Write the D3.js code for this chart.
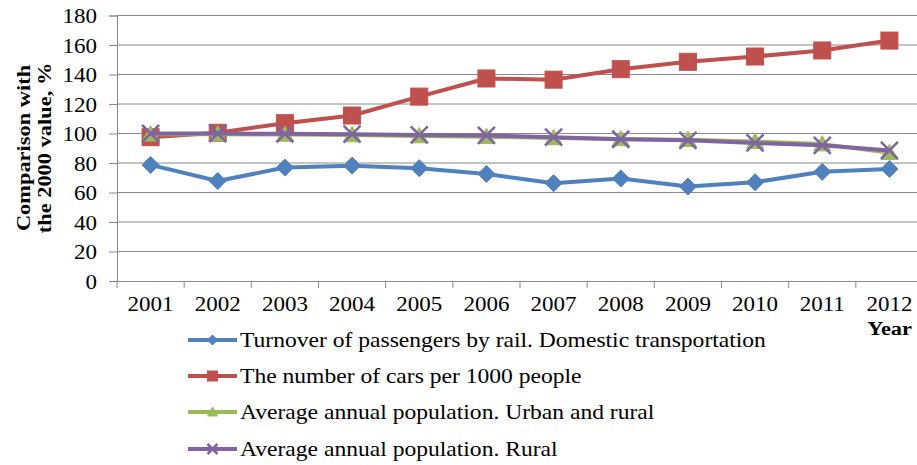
<!DOCTYPE html>
<html>
<head>
<meta charset="utf-8">
<script src="https://cdn.jsdelivr.net/npm/d3@7"></script>
<style>
  html, body { margin: 0; padding: 0; background: #fff; }
  svg { display: block; }
  text { font-family: "Liberation Serif", "Times New Roman", serif; fill: #000; }
</style>
</head>
<body>
<svg id="chart" width="917" height="465"></svg>
<script>
const years = ["2001","2002","2003","2004","2005","2006","2007","2008","2009","2010","2011","2012"];
const railTurnover = [78.7, 67.8, 76.9, 78.2, 76.5, 72.6, 66.3, 69.5, 64.0, 67.0, 74.0, 76.0];
const carsPer1000 = [97.5, 100.5, 107.0, 112.2, 125.0, 137.3, 136.5, 143.6, 148.6, 152.2, 156.3, 163.0];
const popUrbanRural = [99.5, 99.5, 99.3, 99.0, 98.3, 97.8, 97.0, 96.3, 95.8, 94.5, 92.8, 87.0];
const popRural = [100.0, 100.0, 99.8, 99.5, 99.0, 98.7, 97.5, 96.1, 95.4, 93.6, 92.0, 88.5];
const yTicks = [0, 20, 40, 60, 80, 100, 120, 140, 160, 180];
const seriesNames = [
  "Turnover of passengers by rail. Domestic transportation",
  "The number of cars per 1000 people",
  "Average annual population. Urban and rural",
  "Average annual population. Rural"
];
const yTitle = ["Comparison with", "the 2000 value, %"];
const xTitle = "Year";

const series = [
  { name: seriesNames[0], values: railTurnover, color: "#4F81BD", marker: "diamond", width: 4 },
  { name: seriesNames[1], values: carsPer1000, color: "#C0504D", marker: "square", width: 4 },
  { name: seriesNames[2], values: popUrbanRural, color: "#9BBB59", marker: "triangle", width: 4 },
  { name: seriesNames[3], values: popRural, color: "#8064A2", marker: "cross", width: 4 }
];

const SX = 1.15; // horizontal stretch of the original glyphs
const svg = d3.select("#chart");
const plotLeft = 117, plotRight = 923, plotTop = 15.5, plotBottom = 281;

const x = d3.scaleBand().domain(years).range([plotLeft, plotRight]);
const y = d3.scaleLinear().domain([0, 180]).range([plotBottom, plotTop]);

// gridlines
svg.append("g").selectAll("line").data(yTicks.filter(d => d > 0)).join("line")
  .attr("x1", plotLeft).attr("x2", plotRight)
  .attr("y1", d => y(d)).attr("y2", d => y(d))
  .attr("stroke", "#8a8a8a").attr("stroke-width", 1);

// y axis
const yAxis = svg.append("g").attr("transform", `translate(${plotLeft},0)`)
  .call(d3.axisLeft(y).tickValues(yTicks).tickSize(8).tickPadding(12));
yAxis.select(".domain").attr("stroke", "#8a8a8a");
yAxis.selectAll(".tick line").attr("stroke", "#8a8a8a");
yAxis.selectAll(".tick text").each(function() {
  const t = d3.select(this);
  const xx = +t.attr("x");
  t.attr("x", null).attr("dy", null)
   .attr("transform", `translate(${xx},7) scale(${SX},1)`)
   .style("font-size", "20px").style("font-family", "Liberation Serif");
});

// x axis
const xAxis = svg.append("g").attr("transform", `translate(0,${plotBottom})`)
  .call(d3.axisBottom(x).tickSize(0).tickPadding(0));
xAxis.select(".domain").attr("stroke", "#8a8a8a");
xAxis.selectAll(".tick text").each(function() {
  const t = d3.select(this);
  t.attr("y", null).attr("dy", null)
   .attr("transform", `translate(0,30) scale(${SX},1)`)
   .style("font-size", "20px").style("font-family", "Liberation Serif");
});
// category boundary ticks
const bounds = years.map(d => x(d)).concat([plotRight]);
svg.append("g").selectAll("line").data(bounds).join("line")
  .attr("x1", d => d).attr("x2", d => d)
  .attr("y1", plotBottom).attr("y2", plotBottom + 7)
  .attr("stroke", "#8a8a8a");

// y title
const yt = svg.append("g");
yTitle.forEach((s, i) => {
  yt.append("text")
    .attr("transform", `translate(${30 + i * 21},148) rotate(-90) scale(${SX},1)`)
    .attr("text-anchor", "middle")
    .style("font-size", "19.5px").style("font-weight", "bold")
    .text(s);
});
// x title
svg.append("text")
  .attr("transform", `translate(912,335) scale(${SX},1)`)
  .attr("text-anchor", "end")
  .style("font-size", "19.5px").style("font-weight", "bold")
  .text(xTitle);

// marker drawing
function drawMarker(g, type, cx, cy, color, s) {
  if (type === "diamond") {
    g.append("path").attr("d", `M${cx},${cy - s}L${cx + s},${cy}L${cx},${cy + s}L${cx - s},${cy}Z`)
      .attr("fill", color).attr("stroke", color).attr("stroke-width", 1);
  } else if (type === "square") {
    g.append("rect").attr("x", cx - s).attr("y", cy - s).attr("width", 2 * s).attr("height", 2 * s)
      .attr("fill", color).attr("stroke", color).attr("stroke-width", 1);
  } else if (type === "triangle") {
    g.append("path").attr("d", `M${cx},${cy - s}L${cx + s},${cy + s * 0.8}L${cx - s},${cy + s * 0.8}Z`)
      .attr("fill", color).attr("stroke", color).attr("stroke-width", 1);
  } else if (type === "cross") {
    g.append("path").attr("d", `M${cx - s},${cy - s}L${cx + s},${cy + s}M${cx - s},${cy + s}L${cx + s},${cy - s}`)
      .attr("stroke", color).attr("stroke-width", 2.5).attr("fill", "none");
  }
}

const markerSize = { diamond: 8.5, square: 8.5, triangle: 8.5, cross: 8.5 };
const line = d3.line().x((d, i) => x(years[i]) + x.bandwidth() / 2).y(d => y(d));

series.forEach(s => {
  const g = svg.append("g");
  g.append("path").datum(s.values).attr("d", line)
    .attr("fill", "none").attr("stroke", s.color).attr("stroke-width", s.width)
    .attr("stroke-linejoin", "round");
  s.values.forEach((v, i) => {
    drawMarker(g, s.marker, x(years[i]) + x.bandwidth() / 2, y(v), s.color, markerSize[s.marker]);
  });
});

// legend
const legendY = [340, 376, 412, 449];
const leg = svg.append("g");
series.forEach((s, i) => {
  const ly = legendY[i];
  leg.append("line").attr("x1", 188).attr("x2", 237).attr("y1", ly).attr("y2", ly)
    .attr("stroke", s.color).attr("stroke-width", s.width);
  drawMarker(leg, s.marker, 212.5, ly, s.color, 5);
  leg.append("text")
    .attr("transform", `translate(240,${ly + 7}) scale(${SX},1)`)
    .style("font-size", "20.5px")
    .text(s.name);
});
</script>
</body>
</html>
